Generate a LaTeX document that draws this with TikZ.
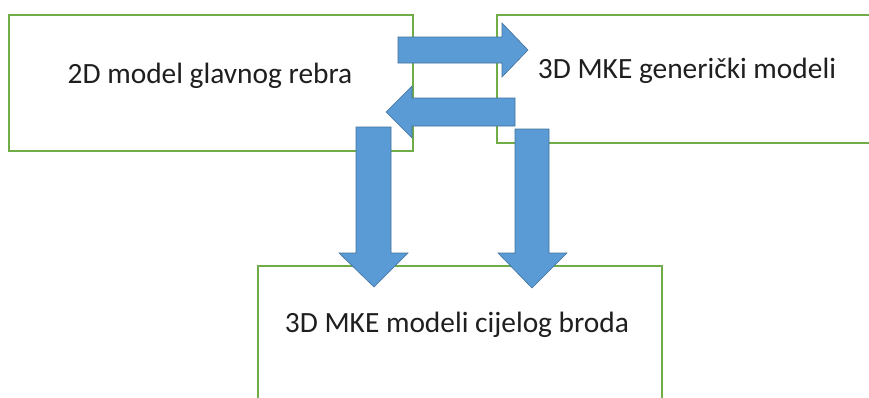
\documentclass[tikz,border=0pt]{standalone}
\usepackage{fontspec}
\setmainfont{Carlito}
\definecolor{boxgreen}{HTML}{70AD47}
\definecolor{arrfill}{HTML}{5B9BD5}
\definecolor{arredge}{HTML}{41719C}
\begin{document}
\begin{tikzpicture}[x=1pt,y=-1pt,
  box/.style={draw=boxgreen,line width=1.3pt,inner sep=0pt,fill=white},
  lbl/.style={font=\fontsize{29.4}{35}\selectfont,text=black!88,anchor=base,inner sep=0pt},
  blockarrow/.style={fill=arrfill,draw=arredge,line width=0.6pt,line join=miter}]
\useasboundingbox (0,0) rectangle (869,397);
\clip (0,0) rectangle (869,397);
% boxes
\node[box,minimum width=404pt,minimum height=136pt] (lbox) at (211,83) {};
\node[box,minimum width=400pt,minimum height=128pt] (rbox) at (697,79) {};
\node[box,minimum width=404pt,minimum height=160pt] (bbox) at (460,346) {};
% labels
\node[lbl] (ltext) at (210,83) {2D model glavnog rebra};
\node[lbl] (rtext) at (687,78) {3D MKE generički modeli};
\node[lbl] (btext) at (457,332) {3D MKE modeli cijelog broda};
% block arrows
\draw[blockarrow] (398,37) -- (502,37) -- (502,23) -- (528,50) -- (502,77) -- (502,63) -- (398,63) -- cycle;
\draw[blockarrow] (515,98) -- (412,98) -- (412,86) -- (386,112) -- (412,138) -- (412,126) -- (515,126) -- cycle;
\draw[blockarrow] (356,127) -- (356,253) -- (339,253) -- (374,287) -- (408,253) -- (391,253) -- (391,127) -- cycle;
\draw[blockarrow] (515,129) -- (515,253) -- (498,253) -- (532,288) -- (567,253) -- (549,253) -- (549,129) -- cycle;
\end{tikzpicture}
\end{document}
